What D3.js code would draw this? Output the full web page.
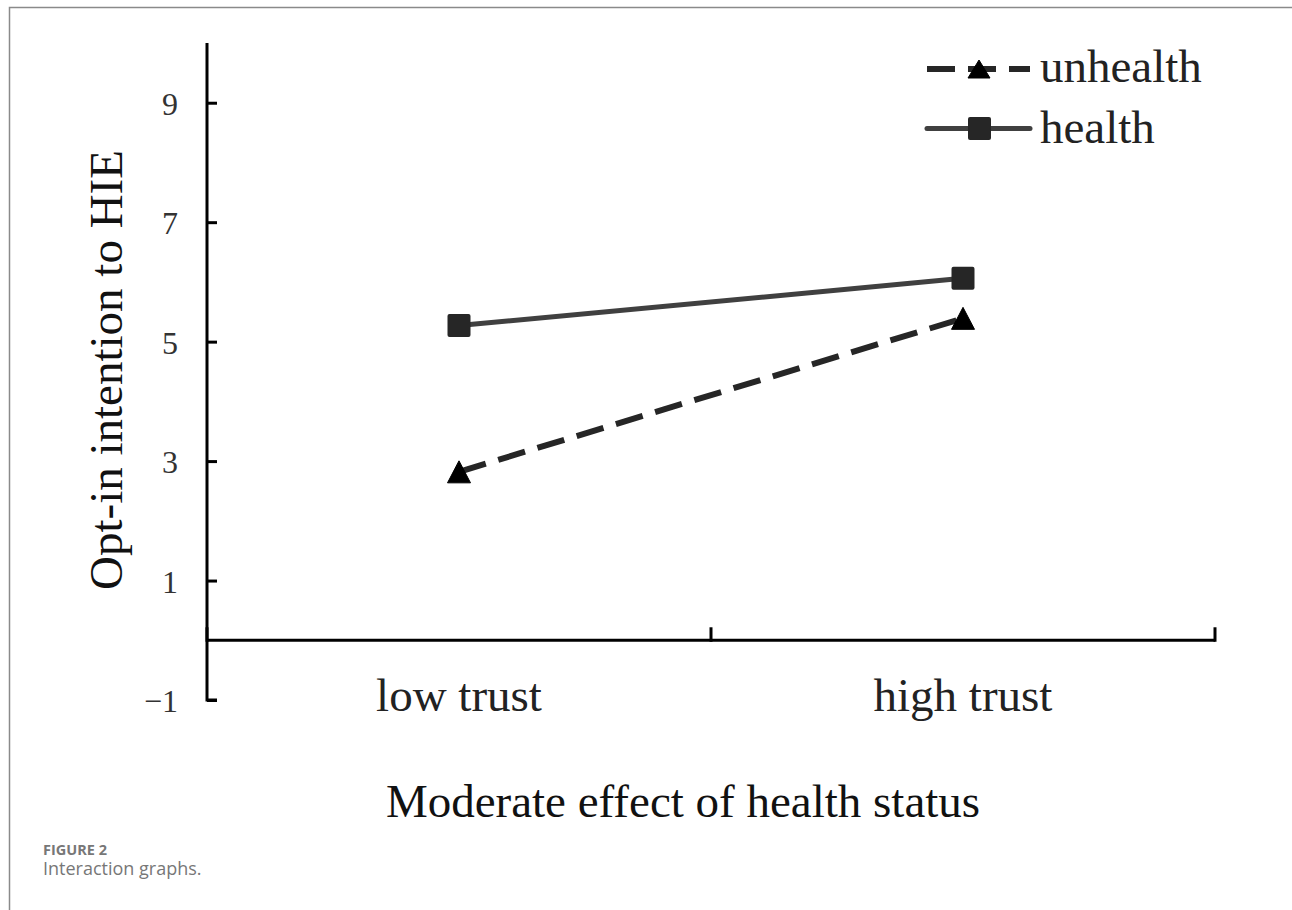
<!DOCTYPE html>
<html>
<head>
<meta charset="utf-8">
<title>Interaction graphs</title>
<script src="https://d3js.org/d3.v7.min.js"></script>
<style>
  body { margin: 0; background: #fff; }
  svg { display: block; }
  .serif { font-family: "Liberation Serif", "Times New Roman", serif; }
  .cap { font-family: "Open Sans", sans-serif; }
</style>
</head>
<body>
<svg width="1292" height="910"></svg>
<script>
// data
var categories = ["low trust", "high trust"];
var unhealthValues = [2.82, 5.39];
var healthValues = [5.27, 6.06];
var yTicks = [-1, 1, 3, 5, 7, 9];
var seriesNames = ["unhealth", "health"];

var svg = d3.select("svg");

// figure frame (top + left rule)
svg.append("path")
    .attr("d", "M9.5,910V7.5H1292")
    .attr("fill", "none")
    .attr("stroke", "#8a8a8a")
    .attr("stroke-width", 1.5);

var plot = {left: 207, right: 1215, top: 43, bottom: 700};

var x = d3.scaleBand().domain(categories).range([plot.left, plot.right]);
var y = d3.scaleLinear().domain([-1, 10]).range([plot.bottom, plot.top]);

// y axis, ticks pointing inward
var yAxis = svg.append("g")
    .attr("transform", "translate(" + plot.left + ",0)")
    .call(d3.axisRight(y).tickValues(yTicks).tickSize(10).tickFormat(""));
yAxis.select(".domain").attr("d", "M10," + plot.bottom + "H0V" + plot.top)
    .attr("stroke", "#000").attr("stroke-width", 3);
yAxis.selectAll(".tick line").attr("stroke", "#000").attr("stroke-width", 3);

// tick labels
svg.selectAll(".ylab")
    .data(yTicks)
    .enter().append("text")
    .attr("class", "ylab serif")
    .attr("x", plot.left - 29)
    .attr("y", function(d){ return y(d) + 12; })
    .attr("text-anchor", "end")
    .attr("font-size", 32)
    .attr("fill", "#333")
    .text(function(d){ return d < 0 ? "\u2212" + Math.abs(d) : d; });

// x axis at value 0, ticks pointing up
var xAxis = svg.append("g")
    .attr("transform", "translate(0," + y(0) + ")");
xAxis.append("line")
    .attr("x1", plot.left).attr("x2", plot.right)
    .attr("stroke", "#000").attr("stroke-width", 3);
xAxis.selectAll(".xt")
    .data([plot.left, plot.left + x.bandwidth(), plot.right])
    .enter().append("line")
    .attr("x1", function(d){ return d; })
    .attr("x2", function(d){ return d; })
    .attr("y1", 1.5).attr("y2", -13)
    .attr("stroke", "#000").attr("stroke-width", 3);

svg.selectAll(".xlab")
    .data(categories)
    .enter().append("text")
    .attr("class", "xlab serif")
    .attr("x", function(d){ return x(d) + x.bandwidth() / 2; })
    .attr("y", 711)
    .attr("text-anchor", "middle")
    .attr("font-size", 47)
    .attr("fill", "#222")
    .text(function(d){ return d; });

// axis titles
svg.append("text")
    .attr("class", "serif")
    .attr("x", 683).attr("y", 817)
    .attr("text-anchor", "middle")
    .attr("font-size", 47)
    .attr("fill", "#111")
    .text("Moderate effect of health status");

svg.append("text")
    .attr("class", "serif")
    .attr("transform", "translate(122,370) rotate(-90)")
    .attr("text-anchor", "middle")
    .attr("font-size", 47)
    .attr("fill", "#111")
    .text("Opt-in intention to HIE");

var cx = function(d, i){ return x(categories[i]) + x.bandwidth() / 2; };
var line = d3.line().x(cx).y(function(d){ return y(d); });

// health (solid, squares)
svg.append("path")
    .datum(healthValues)
    .attr("d", line)
    .attr("fill", "none")
    .attr("stroke", "#404040")
    .attr("stroke-width", 5);

// unhealth (dashed, triangles)
svg.append("path")
    .datum(unhealthValues)
    .attr("d", line)
    .attr("fill", "none")
    .attr("stroke", "#262626")
    .attr("stroke-width", 6)
    .attr("stroke-dasharray", "28,13");

// triangle marker, 23 wide x 22 tall, centred on its point
var tri = "M0,-11L11.5,11H-11.5Z";

svg.selectAll(".sq")
    .data(healthValues)
    .enter().append("rect")
    .attr("x", function(d, i){ return cx(d, i) - 11.5; })
    .attr("y", function(d){ return y(d) - 11.5; })
    .attr("width", 23).attr("height", 23)
    .attr("rx", 2)
    .attr("fill", "#262626");

svg.selectAll(".tri")
    .data(unhealthValues)
    .enter().append("path")
    .attr("d", tri)
    .attr("transform", function(d, i){ return "translate(" + cx(d, i) + "," + y(d) + ")"; })
    .attr("fill", "#000")
    .attr("stroke", "#000").attr("stroke-width", 1).attr("stroke-linejoin", "round");

// legend
var legend = svg.append("g");
var ly = [69, 128.5];
legend.append("line")
    .attr("x1", 927).attr("x2", 1030).attr("y1", ly[0]).attr("y2", ly[0])
    .attr("stroke", "#262626").attr("stroke-width", 6)
    .attr("stroke-dasharray", "28,13");
legend.append("path")
    .attr("d", "M0,-9L11,9H-11Z")
    .attr("transform", "translate(979," + ly[0] + ")")
    .attr("fill", "#000")
    .attr("stroke", "#000").attr("stroke-width", 1).attr("stroke-linejoin", "round");
legend.append("line")
    .attr("x1", 927).attr("x2", 1030).attr("y1", ly[1]).attr("y2", ly[1])
    .attr("stroke", "#404040").attr("stroke-width", 5)
    .attr("stroke-linecap", "round");
legend.append("rect")
    .attr("x", 968).attr("y", ly[1] - 11.5)
    .attr("width", 23).attr("height", 23).attr("rx", 2)
    .attr("fill", "#262626");
legend.selectAll(".lt")
    .data(seriesNames)
    .enter().append("text")
    .attr("class", "serif")
    .attr("x", 1040)
    .attr("y", function(d, i){ return [82, 143][i]; })
    .attr("font-size", 47)
    .attr("fill", "#222")
    .text(function(d){ return d; });

// caption
svg.append("text")
    .attr("class", "cap")
    .attr("x", 43).attr("y", 855)
    .attr("font-size", 14.5).attr("font-weight", "bold")
    .attr("fill", "#777")
    .text("FIGURE 2");
svg.append("text")
    .attr("class", "cap")
    .attr("x", 43).attr("y", 875)
    .attr("font-size", 18)
    .attr("fill", "#777")
    .text("Interaction graphs.");
</script>
</body>
</html>
